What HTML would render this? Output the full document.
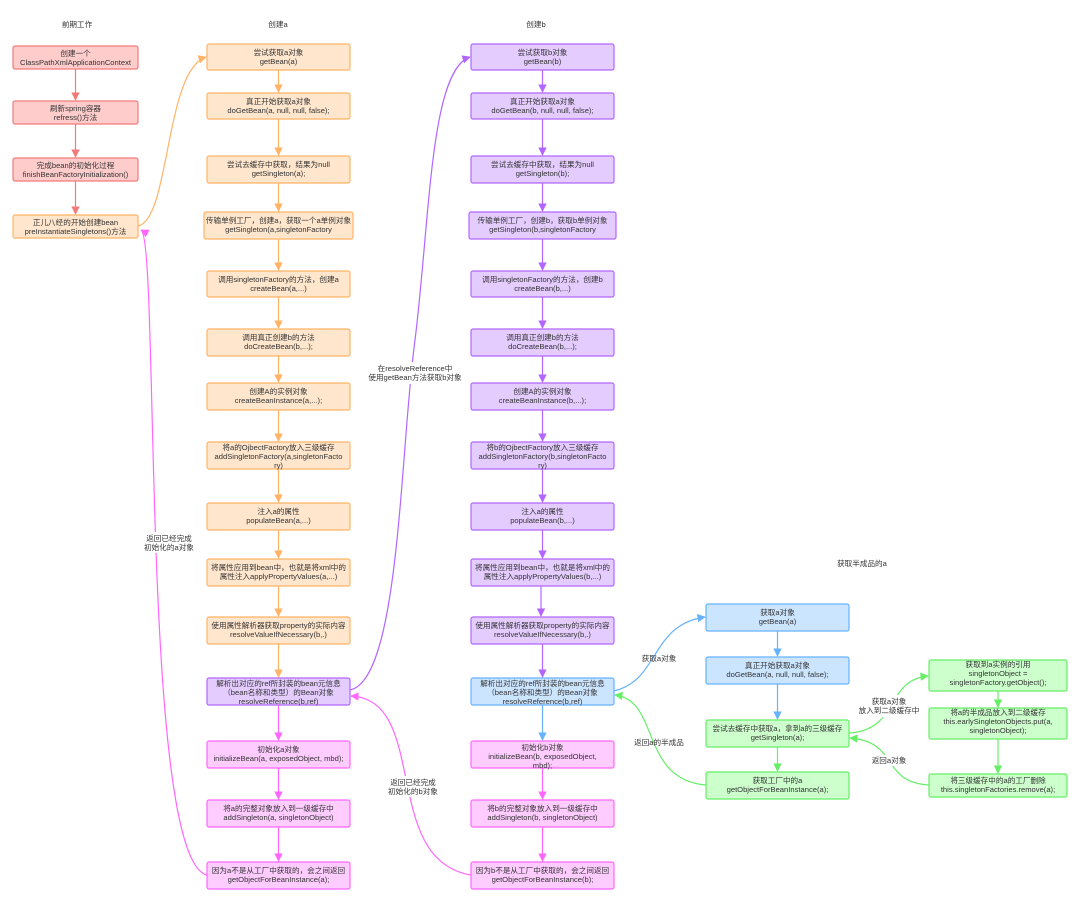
<!DOCTYPE html>
<html><head><meta charset="utf-8"><style>
html,body{margin:0;padding:0;background:#fff;}
svg{display:block;}
text{font-family:"Liberation Sans","Noto Sans CJK SC",sans-serif;font-size:7.6px;fill:#333;text-anchor:middle;}
.r{fill:#ffcccc;stroke:#f47a7a;stroke-width:1.2}
.o{fill:#ffe6cc;stroke:#ffb366;stroke-width:1.2}
.p{fill:#e5ccff;stroke:#b266ff;stroke-width:1.2}
.k{fill:#ffccff;stroke:#ff66ff;stroke-width:1.2}
.b{fill:#cce5ff;stroke:#66b2ff;stroke-width:1.2}
.g{fill:#ccffcc;stroke:#66ee66;stroke-width:1.2}
path{fill:none;stroke-width:1.2}
</style></head><body>
<svg width="1080" height="902" viewBox="0 0 1080 902" xmlns="http://www.w3.org/2000/svg">
<defs>
<marker id="mr" viewBox="0 0 10 10" refX="9" refY="5" markerWidth="7" markerHeight="7" orient="auto"><path d="M0,0L10,5L0,10z" style="fill:#f47a7a;stroke:none"/></marker>
<marker id="mo" viewBox="0 0 10 10" refX="9" refY="5" markerWidth="7" markerHeight="7" orient="auto"><path d="M0,0L10,5L0,10z" style="fill:#ffb366;stroke:none"/></marker>
<marker id="mp" viewBox="0 0 10 10" refX="9" refY="5" markerWidth="7" markerHeight="7" orient="auto"><path d="M0,0L10,5L0,10z" style="fill:#b266ff;stroke:none"/></marker>
<marker id="mk" viewBox="0 0 10 10" refX="9" refY="5" markerWidth="7" markerHeight="7" orient="auto"><path d="M0,0L10,5L0,10z" style="fill:#ff66ff;stroke:none"/></marker>
<marker id="mb" viewBox="0 0 10 10" refX="9" refY="5" markerWidth="7" markerHeight="7" orient="auto"><path d="M0,0L10,5L0,10z" style="fill:#66b2ff;stroke:none"/></marker>
<marker id="mg" viewBox="0 0 10 10" refX="9" refY="5" markerWidth="7" markerHeight="7" orient="auto"><path d="M0,0L10,5L0,10z" style="fill:#66ee66;stroke:none"/></marker>
</defs>

<!-- headers -->
<text x="77" y="27">前期工作</text>
<text x="278" y="27">创建a</text>
<text x="536" y="27">创建b</text>
<text x="862" y="566">获取半成品的a</text>

<!-- left column arrows -->
<g stroke="#f47a7a">
<path d="M75.5,69V100" stroke="#f47a7a" marker-end="url(#mr)"/>
<path d="M75.5,124V157" stroke="#f47a7a" marker-end="url(#mr)"/>
<path d="M75.5,181V214" stroke="#f47a7a" marker-end="url(#mr)"/>
</g>

<!-- column a arrows -->
<path d="M278.5,70V92" stroke="#ffb366" marker-end="url(#mo)"/>
<path d="M278.5,119V155" stroke="#ffb366" marker-end="url(#mo)"/>
<path d="M278.5,183V211" stroke="#ffb366" marker-end="url(#mo)"/>
<path d="M278.5,239V270" stroke="#ffb366" marker-end="url(#mo)"/>
<path d="M278.5,297V328" stroke="#ffb366" marker-end="url(#mo)"/>
<path d="M278.5,356V382" stroke="#ffb366" marker-end="url(#mo)"/>
<path d="M278.5,410V441" stroke="#ffb366" marker-end="url(#mo)"/>
<path d="M278.5,469V502" stroke="#ffb366" marker-end="url(#mo)"/>
<path d="M278.5,530V558" stroke="#ffb366" marker-end="url(#mo)"/>
<path d="M278.5,586V616" stroke="#ffb366" marker-end="url(#mo)"/>
<path d="M278.5,644V677" stroke="#ffb366" marker-end="url(#mo)"/>
<path d="M278.5,705V740" stroke="#ff66ff" marker-end="url(#mk)"/>
<path d="M278.5,768V799" stroke="#ff66ff" marker-end="url(#mk)"/>
<path d="M278.5,827V861" stroke="#ff66ff" marker-end="url(#mk)"/>

<!-- column b arrows -->
<path d="M542.5,70V92" stroke="#b266ff" marker-end="url(#mp)"/>
<path d="M542.5,119V155" stroke="#b266ff" marker-end="url(#mp)"/>
<path d="M542.5,183V211" stroke="#b266ff" marker-end="url(#mp)"/>
<path d="M542.5,239V270" stroke="#b266ff" marker-end="url(#mp)"/>
<path d="M542.5,297V328" stroke="#b266ff" marker-end="url(#mp)"/>
<path d="M542.5,356V382" stroke="#b266ff" marker-end="url(#mp)"/>
<path d="M542.5,410V441" stroke="#b266ff" marker-end="url(#mp)"/>
<path d="M542.5,469V502" stroke="#b266ff" marker-end="url(#mp)"/>
<path d="M542.5,530V558" stroke="#b266ff" marker-end="url(#mp)"/>
<path d="M541,586V616" stroke="#b266ff" marker-end="url(#mp)"/>
<path d="M542.5,644V677" stroke="#b266ff" marker-end="url(#mp)"/>
<path d="M542.5,705V740" stroke="#66b2ff" marker-end="url(#mb)"/>
<path d="M542.5,768V799" stroke="#ff66ff" marker-end="url(#mk)"/>
<path d="M542.5,827V861" stroke="#ff66ff" marker-end="url(#mk)"/>

<!-- right arrows -->
<path d="M777.5,631V656" stroke="#66b2ff" marker-end="url(#mb)"/>
<path d="M777.5,684V719" stroke="#66b2ff" marker-end="url(#mb)"/>
<path d="M777.5,747V771" stroke="#66ee66" marker-end="url(#mg)"/>
<path d="M998,691V707" stroke="#66ee66" marker-end="url(#mg)"/>
<path d="M998,739V773" stroke="#66ee66" marker-end="url(#mg)"/>

<!-- curves -->
<path d="M138,226C170,220 165,70 206,57" stroke="#ffb366" marker-end="url(#mo)"/>
<path d="M207,875C140,860 160,240 141,230" stroke="#ff66ff" marker-end="url(#mk)"/>
<path d="M350,690C400,680 400,450 415,340C430,220 430,70 470,57" stroke="#b266ff" marker-end="url(#mp)"/>
<path d="M471,875C380,860 430,700 351,696" stroke="#ff66ff" marker-end="url(#mk)"/>
<path d="M614,691C660,680 650,625 705,617" stroke="#66b2ff" marker-end="url(#mb)"/>
<path d="M706,785C640,780 660,700 615,695" stroke="#66ee66" marker-end="url(#mg)"/>
<path d="M849,733C900,730 885,680 928,676" stroke="#66ee66" marker-end="url(#mg)"/>
<path d="M929,785C880,782 900,742 850,738" stroke="#66ee66" marker-end="url(#mg)"/>

<!-- edge labels -->
<rect x="376" y="362" width="80" height="22" fill="#fff"/>
<text x="415" y="371">在resolveReference中</text>
<text x="415" y="380">使用getBean方法获取b对象</text>
<rect x="143" y="532" width="52" height="21" fill="#fff"/>
<text x="169" y="541">返回已经完成</text>
<text x="169" y="550">初始化的a对象</text>
<rect x="386" y="776" width="54" height="21" fill="#fff"/>
<text x="413" y="785">返回已经完成</text>
<text x="413" y="794">初始化的b对象</text>
<text x="659" y="661">获取a对象</text>
<text x="659" y="745">返回a的半成品</text>
<rect x="860" y="695" width="58" height="22" fill="#fff"/>
<text x="889" y="704">获取a对象</text>
<text x="889" y="713">放入到二级缓存中</text>
<rect x="870" y="755" width="38" height="11" fill="#fff"/>
<text x="889" y="763">返回a对象</text>

<!-- left boxes -->
<rect class="r" x="13" y="46" width="125" height="23" rx="2"/><text x="75.5" y="56">创建一个</text><text x="75.5" y="65">ClassPathXmlApplicationContext</text>
<rect class="r" x="13" y="101" width="125" height="23" rx="2"/><text x="75.5" y="111">刷新spring容器</text><text x="75.5" y="120">refress()方法</text>
<rect class="r" x="13" y="158" width="125" height="23" rx="2"/><text x="75.5" y="168">完成bean的初始化过程</text><text x="75.5" y="177">finishBeanFactoryInitialization()</text>
<rect class="o" x="13" y="215" width="125" height="23" rx="2"/><text x="75.5" y="225">正儿八经的开始创建bean</text><text x="75.5" y="234">preInstantiateSingletons()方法</text>

<!-- column a boxes -->
<g>
<rect class="o" x="207" y="44" width="143" height="26" rx="2"/><text x="278.5" y="55">尝试获取a对象</text><text x="278.5" y="64">getBean(a)</text>
<rect class="o" x="207" y="93" width="143" height="26" rx="2"/><text x="278.5" y="104">真正开始获取a对象</text><text x="278.5" y="113">doGetBean(a, null, null, false);</text>
<rect class="o" x="207" y="156" width="143" height="27" rx="2"/><text x="278.5" y="167">尝试去缓存中获取，结果为null</text><text x="278.5" y="176">getSingleton(a);</text>
<rect class="o" x="204" y="212" width="149" height="27" rx="2"/><text x="278.5" y="223">传输单例工厂，创建a，获取一个a单例对象</text><text x="278.5" y="232">getSingleton(a,singletonFactory</text>
<rect class="o" x="207" y="271" width="143" height="26" rx="2"/><text x="278.5" y="282">调用singletonFactory的方法，创建a</text><text x="278.5" y="291">createBean(a,...)</text>
<rect class="o" x="207" y="329" width="143" height="27" rx="2"/><text x="278.5" y="340">调用真正创建b的方法</text><text x="278.5" y="349">doCreateBean(b,...);</text>
<rect class="o" x="207" y="383" width="143" height="27" rx="2"/><text x="278.5" y="394">创建A的实例对象</text><text x="278.5" y="403">createBeanInstance(a,...);</text>
<rect class="o" x="207" y="442" width="143" height="27" rx="2"/><text x="278.5" y="450">将a的OjbectFactory放入三级缓存</text><text x="278.5" y="459">addSingletonFactory(a,singletonFacto</text><text x="278.5" y="468">ry)</text>
<rect class="o" x="207" y="503" width="143" height="27" rx="2"/><text x="278.5" y="514">注入a的属性</text><text x="278.5" y="523">populateBean(a,...)</text>
<rect class="o" x="207" y="559" width="143" height="27" rx="2"/><text x="278.5" y="570">将属性应用到bean中，也就是将xml中的</text><text x="278.5" y="579">属性注入applyPropertyValues(a,...)</text>
<rect class="o" x="207" y="617" width="143" height="27" rx="2"/><text x="278.5" y="628">使用属性解析器获取property的实际内容</text><text x="278.5" y="637">resolveValueIfNecessary(b,.)</text>
<rect class="p" x="207" y="678" width="143" height="27" rx="2"/><text x="278.5" y="686">解析出对应的ref所封装的bean元信息</text><text x="278.5" y="695">（bean名称和类型）的Bean对象</text><text x="278.5" y="704">resolveReference(b,ref)</text>
<rect class="k" x="207" y="741" width="143" height="27" rx="2"/><text x="278.5" y="752">初始化a对象</text><text x="278.5" y="761">initializeBean(a, exposedObject, mbd);</text>
<rect class="k" x="207" y="800" width="143" height="27" rx="2"/><text x="278.5" y="811">将a的完整对象放入到一级缓存中</text><text x="278.5" y="820">addSingleton(a, singletonObject)</text>
<rect class="k" x="207" y="862" width="143" height="27" rx="2"/><text x="278.5" y="873">因为a不是从工厂中获取的，会之间返回</text><text x="278.5" y="882">getObjectForBeanInstance(a);</text>
</g>

<!-- column b boxes -->
<g>
<rect class="p" x="471" y="44" width="143" height="26" rx="2"/><text x="542.5" y="55">尝试获取b对象</text><text x="542.5" y="64">getBean(b)</text>
<rect class="p" x="471" y="93" width="143" height="26" rx="2"/><text x="542.5" y="104">真正开始获取a对象</text><text x="542.5" y="113">doGetBean(b, null, null, false);</text>
<rect class="p" x="471" y="156" width="143" height="27" rx="2"/><text x="542.5" y="167">尝试去缓存中获取，结果为null</text><text x="542.5" y="176">getSingleton(b);</text>
<rect class="p" x="469" y="212" width="147" height="27" rx="2"/><text x="542.5" y="223">传输单例工厂，创建b，获取b单例对象</text><text x="542.5" y="232">getSingleton(b,singletonFactory</text>
<rect class="p" x="471" y="271" width="143" height="26" rx="2"/><text x="542.5" y="282">调用singletonFactory的方法，创建b</text><text x="542.5" y="291">createBean(b,...)</text>
<rect class="p" x="471" y="329" width="143" height="27" rx="2"/><text x="542.5" y="340">调用真正创建b的方法</text><text x="542.5" y="349">doCreateBean(b,...);</text>
<rect class="p" x="471" y="383" width="143" height="27" rx="2"/><text x="542.5" y="394">创建A的实例对象</text><text x="542.5" y="403">createBeanInstance(b,...);</text>
<rect class="p" x="471" y="442" width="143" height="27" rx="2"/><text x="542.5" y="450">将b的OjbectFactory放入三级缓存</text><text x="542.5" y="459">addSingletonFactory(b,singletonFacto</text><text x="542.5" y="468">ry)</text>
<rect class="p" x="471" y="503" width="143" height="27" rx="2"/><text x="542.5" y="514">注入a的属性</text><text x="542.5" y="523">populateBean(b,...)</text>
<rect class="p" x="471" y="559" width="143" height="27" rx="2"/><text x="542.5" y="570">将属性应用到bean中，也就是将xml中的</text><text x="542.5" y="579">属性注入applyPropertyValues(b,...)</text>
<rect class="p" x="471" y="617" width="143" height="27" rx="2"/><text x="542.5" y="628">使用属性解析器获取property的实际内容</text><text x="542.5" y="637">resolveValueIfNecessary(b,.)</text>
<rect class="b" x="471" y="678" width="143" height="27" rx="2"/><text x="542.5" y="686">解析出对应的ref所封装的bean元信息</text><text x="542.5" y="695">（bean名称和类型）的Bean对象</text><text x="542.5" y="704">resolveReference(b,ref)</text>
<rect class="k" x="471" y="741" width="143" height="27" rx="2"/><text x="542.5" y="750">初始化b对象</text><text x="542.5" y="759">initializeBean(b, exposedObject,</text><text x="542.5" y="768">mbd);</text>
<rect class="k" x="471" y="800" width="143" height="27" rx="2"/><text x="542.5" y="811">将b的完整对象放入到一级缓存中</text><text x="542.5" y="820">addSingleton(b, singletonObject)</text>
<rect class="k" x="471" y="862" width="143" height="27" rx="2"/><text x="542.5" y="873">因为b不是从工厂中获取的，会之间返回</text><text x="542.5" y="882">getObjectForBeanInstance(b);</text>
</g>

<!-- right section -->
<rect class="b" x="706" y="604" width="143" height="27" rx="2"/><text x="777.5" y="615">获取a对象</text><text x="777.5" y="624">getBean(a)</text>
<rect class="b" x="706" y="657" width="143" height="27" rx="2"/><text x="777.5" y="668">真正开始获取a对象</text><text x="777.5" y="677">doGetBean(a, null, null, false);</text>
<rect class="g" x="706" y="720" width="143" height="27" rx="2"/><text x="777.5" y="731">尝试去缓存中获取a，拿到a的三级缓存</text><text x="777.5" y="740">getSingleton(a);</text>
<rect class="g" x="706" y="772" width="143" height="27" rx="2"/><text x="777.5" y="783">获取工厂中的a</text><text x="777.5" y="792">getObjectForBeanInstance(a);</text>
<rect class="g" x="929" y="660" width="138" height="31" rx="2"/><text x="998" y="667">获取到a实例的引用</text><text x="998" y="676">singletonObject =</text><text x="998" y="685">singletonFactory.getObject();</text>
<rect class="g" x="929" y="708" width="138" height="31" rx="2"/><text x="998" y="715">将a的半成品放入到二级缓存</text><text x="998" y="724">this.earlySingletonObjects.put(a,</text><text x="998" y="733">singletonObject);</text>
<rect class="g" x="929" y="774" width="138" height="23" rx="2"/><text x="998" y="783">将三级缓存中的a的工厂删除</text><text x="998" y="792">this.singletonFactories.remove(a);</text>
</svg>
</body></html>
